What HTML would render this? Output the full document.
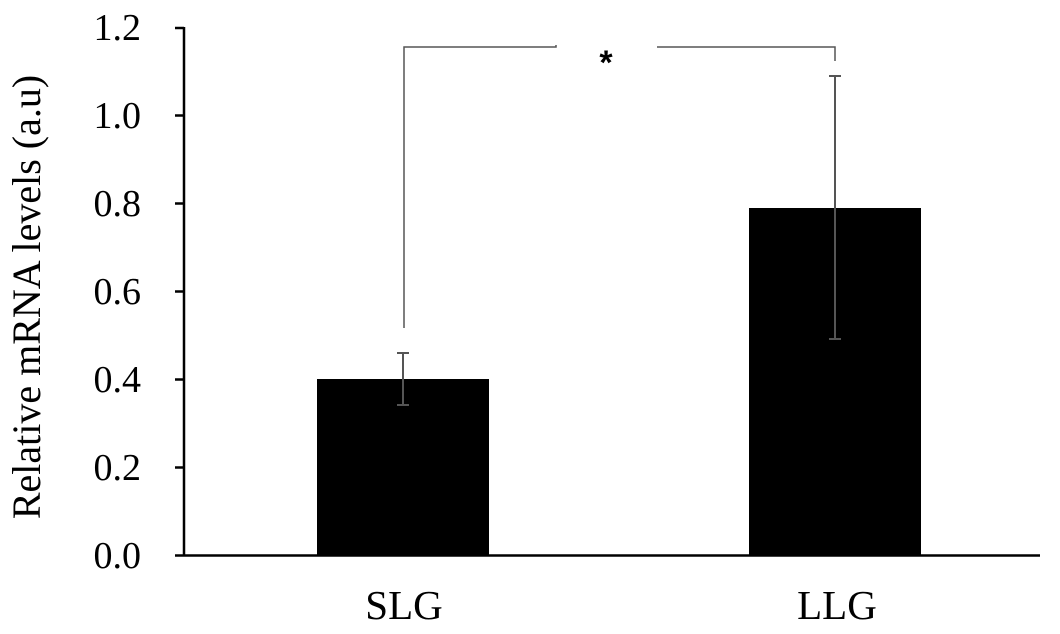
<!DOCTYPE html>
<html><head><meta charset="utf-8"><style>
html,body{margin:0;padding:0;background:#fff;}
</style></head><body>
<svg width="1060" height="629" xmlns="http://www.w3.org/2000/svg" font-family="Liberation Serif, serif">
<rect width="1060" height="629" fill="#fff"/>
<rect x="317" y="379" width="172" height="177" fill="#000"/>
<rect x="749" y="208" width="172" height="348" fill="#000"/>
<line x1="184" y1="27" x2="184" y2="556" stroke="#000" stroke-width="2.5"/>
<line x1="175" y1="555.5" x2="1040" y2="555.5" stroke="#000" stroke-width="2.5"/>
<g stroke="#000" stroke-width="2.5">
<line x1="175" y1="467.5" x2="184" y2="467.5"/>
<line x1="175" y1="379.5" x2="184" y2="379.5"/>
<line x1="175" y1="291.5" x2="184" y2="291.5"/>
<line x1="175" y1="203.5" x2="184" y2="203.5"/>
<line x1="175" y1="115.5" x2="184" y2="115.5"/>
<line x1="175" y1="28" x2="184" y2="28"/>
</g>
<g font-size="38" text-anchor="end" fill="#000">
<text x="141" y="568">0.0</text>
<text x="141" y="480">0.2</text>
<text x="141" y="392">0.4</text>
<text x="141" y="304">0.6</text>
<text x="141" y="216">0.8</text>
<text x="141" y="128">1.0</text>
<text x="141" y="40">1.2</text>
</g>
<g font-size="41" text-anchor="middle" fill="#000">
<text x="404" y="619">SLG</text>
<text x="837" y="619">LLG</text>
</g>
<text transform="translate(40,297) rotate(-90)" font-size="40" text-anchor="middle" fill="#000">Relative mRNA levels (a.u)</text>
<g stroke="#555" stroke-width="2">
<line x1="403" y1="353" x2="403" y2="405"/>
<line x1="397" y1="353" x2="409" y2="353"/>
<line x1="397" y1="405" x2="409" y2="405"/>
<line x1="835" y1="76" x2="835" y2="339"/>
<line x1="829" y1="76" x2="841" y2="76"/>
<line x1="829" y1="339" x2="841" y2="339"/>
</g>
<g stroke="#555" stroke-width="1.5" fill="none">
<polyline points="404,328 404,47 556,47 556,45"/>
<polyline points="657,47 835,47 835,61"/>
</g>
<text x="606" y="74" font-size="34" font-family="Liberation Sans, sans-serif" font-weight="bold" text-anchor="middle">*</text>
</svg>
</body></html>
